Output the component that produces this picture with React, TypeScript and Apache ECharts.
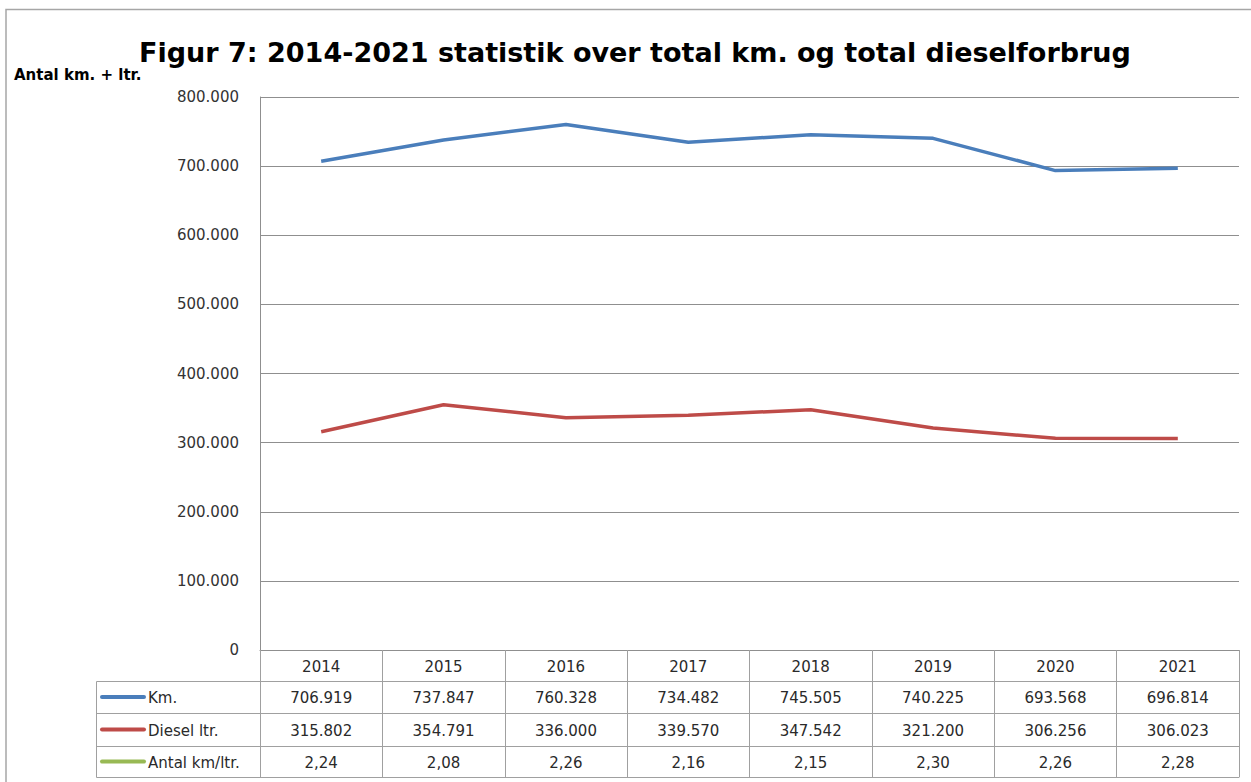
import React, { useEffect, useRef } from "react";
import * as echarts from "echarts";

const years = ["2014", "2015", "2016", "2017", "2018", "2019", "2020", "2021"];
const kmValues = [706919, 737847, 760328, 734482, 745505, 740225, 693568, 696814];
const dieselValues = [315802, 354791, 336000, 339570, 347542, 321200, 306256, 306023];
const kmPerLtr = [2.24, 2.08, 2.26, 2.16, 2.15, 2.3, 2.26, 2.28];
const seriesNames = ["Km.", "Diesel ltr.", "Antal km/ltr."];
const seriesColors = ["#4A7EBB", "#BE4B48", "#98B954"];
const titleText = "Figur 7: 2014-2021 statistik over total km. og total dieselforbrug";
const yAxisName = "Antal km. + ltr.";

const fmtThousands = (v: number) =>
  v === 0 ? "0" : Math.round(v).toString().replace(/\B(?=(\d{3})+(?!\d))/g, ".");
const fmtDec = (v: number) => v.toFixed(2).replace(".", ",");

const W = 1251;
const H = 782;
const GRID_LEFT = 260;
const GRID_RIGHT = 1239;
const GRID_TOP = 97;
const GRID_BOTTOM = 650;
const ROW_EDGES = [650, 681, 713, 746, 777];
const LEGEND_LEFT = 96;

const TABLE_FONT = "'DejaVu Sans', Verdana, sans-serif";
const GRID_COLOR = "#8f8f8f";
const TABLE_COLOR = "#a0a0a0";
const TEXT_COLOR = "#2a2a2a";

export default function App() {
  const ref = useRef<HTMLDivElement>(null);

  useEffect(() => {
    if (!ref.current) return;
    const chart = echarts.init(ref.current, undefined, { renderer: "svg" });

    const rowFormatters = [
      (i: number) => fmtThousands(kmValues[i]),
      (i: number) => fmtThousands(dieselValues[i]),
      (i: number) => fmtDec(kmPerLtr[i]),
    ];

    const rowAxes: any[] = rowFormatters.map((f, r) => {
      const top = ROW_EDGES[r + 1];
      const bottom = ROW_EDGES[r + 2];
      return {
        type: "category",
        data: years,
        gridIndex: 0,
        position: "bottom",
        offset: top - GRID_BOTTOM,
        boundaryGap: true,
        axisLine: { show: true, lineStyle: { color: TABLE_COLOR, width: 1 } },
        axisTick: { show: false },
        splitLine: { show: false },
        axisLabel: {
          show: true,
          interval: 0,
          margin: (bottom - top) / 2 + 1,
          verticalAlign: "middle",
          fontFamily: TABLE_FONT,
          fontSize: 15,
          color: TEXT_COLOR,
          formatter: (_v: string, idx: number) => f(idx),
        },
      };
    });

    const bottomAxis = {
      type: "category",
      data: years,
      gridIndex: 0,
      position: "bottom",
      offset: ROW_EDGES[4] - GRID_BOTTOM,
      boundaryGap: true,
      axisLine: { show: true, lineStyle: { color: TABLE_COLOR, width: 1 } },
      axisTick: { show: false },
      axisLabel: { show: false },
      splitLine: { show: false },
    };

    const legendGraphics: any[] = [];
    legendGraphics.push({
      type: "rect",
      shape: {
        x: LEGEND_LEFT + 0.5,
        y: ROW_EDGES[1] + 0.5,
        width: GRID_LEFT - LEGEND_LEFT,
        height: ROW_EDGES[4] - ROW_EDGES[1],
      },
      style: { fill: "none", stroke: TABLE_COLOR, lineWidth: 1 },
      z: 10,
    });
    for (let r = 0; r < 3; r++) {
      const cy = (ROW_EDGES[r + 1] + ROW_EDGES[r + 2]) / 2;
      if (r > 0) {
        legendGraphics.push({
          type: "line",
          shape: { x1: LEGEND_LEFT, y1: ROW_EDGES[r + 1] + 0.5, x2: GRID_LEFT, y2: ROW_EDGES[r + 1] + 0.5 },
          style: { stroke: TABLE_COLOR, lineWidth: 1 },
          z: 10,
        });
      }
      legendGraphics.push({
        type: "line",
        shape: { x1: LEGEND_LEFT + 6, y1: cy, x2: LEGEND_LEFT + 48, y2: cy },
        style: { stroke: seriesColors[r], lineWidth: 4, lineCap: "round" },
        z: 10,
      });
      legendGraphics.push({
        type: "text",
        x: LEGEND_LEFT + 52,
        y: cy + 1,
        style: {
          text: seriesNames[r],
          fontFamily: TABLE_FONT,
          fontSize: 15,
          fill: TEXT_COLOR,
          verticalAlign: "middle",
          align: "left",
        },
        z: 10,
      });
    }

    const option: any = {
      animation: false,
      backgroundColor: "#ffffff",
      grid: {
        left: GRID_LEFT,
        right: W - GRID_RIGHT,
        top: GRID_TOP,
        bottom: H - GRID_BOTTOM,
        containLabel: false,
      },
      xAxis: [
        {
          type: "category",
          data: years,
          gridIndex: 0,
          position: "bottom",
          boundaryGap: true,
          axisLine: { show: true, lineStyle: { color: GRID_COLOR, width: 1 } },
          axisTick: {
            show: true,
            interval: 0,
            alignWithLabel: false,
            length: ROW_EDGES[4] - ROW_EDGES[0],
            lineStyle: { color: TABLE_COLOR, width: 1 },
          },
          axisLabel: {
            show: true,
            interval: 0,
            margin: (ROW_EDGES[1] - ROW_EDGES[0]) / 2 + 1,
            verticalAlign: "middle",
            fontFamily: TABLE_FONT,
            fontSize: 15,
            color: TEXT_COLOR,
          },
          splitLine: { show: false },
        },
        ...rowAxes,
        bottomAxis,
      ],
      yAxis: {
        type: "value",
        min: 0,
        max: 800000,
        interval: 100000,
        axisLine: { show: true, lineStyle: { color: GRID_COLOR, width: 1 } },
        axisTick: { show: false },
        splitLine: { show: true, lineStyle: { color: GRID_COLOR, width: 1 } },
        axisLabel: {
          margin: 21,
          fontFamily: TABLE_FONT,
          fontSize: 15,
          color: "#333333",
          formatter: (v: number) => fmtThousands(v),
        },
      },
      series: [
        {
          name: seriesNames[0],
          type: "line",
          data: kmValues,
          xAxisIndex: 0,
          yAxisIndex: 0,
          symbol: "none",
          lineStyle: { color: seriesColors[0], width: 3.5 },
          itemStyle: { color: seriesColors[0] },
          z: 5,
        },
        {
          name: seriesNames[1],
          type: "line",
          data: dieselValues,
          xAxisIndex: 0,
          yAxisIndex: 0,
          symbol: "none",
          lineStyle: { color: seriesColors[1], width: 3.5 },
          itemStyle: { color: seriesColors[1] },
          z: 5,
        },
      ],
      graphic: [
        {
          type: "rect",
          shape: { x: 6, y: 9.5, width: 1400, height: 1000 },
          style: { fill: "none", stroke: "#a6a6a6", lineWidth: 1.5 },
          z: 1,
        },
        {
          type: "text",
          x: 635,
          y: 52,
          style: {
            text: titleText,
            fontFamily: "'DejaVu Sans', sans-serif",
            fontWeight: "bold",
            fontSize: 27,
            fill: "#000000",
            align: "center",
            verticalAlign: "middle",
          },
        },
        {
          type: "text",
          x: 14,
          y: 75,
          style: {
            text: yAxisName,
            fontFamily: "'DejaVu Sans', sans-serif",
            fontWeight: "bold",
            fontSize: 15,
            fill: "#000000",
            align: "left",
            verticalAlign: "middle",
          },
        },
        ...legendGraphics,
      ],
    };

    chart.setOption(option);
    return () => chart.dispose();
  }, []);

  return (
    <div
      ref={ref}
      style={{ position: "fixed", left: 0, top: 0, width: W, height: H, background: "#fff" }}
    />
  );
}
